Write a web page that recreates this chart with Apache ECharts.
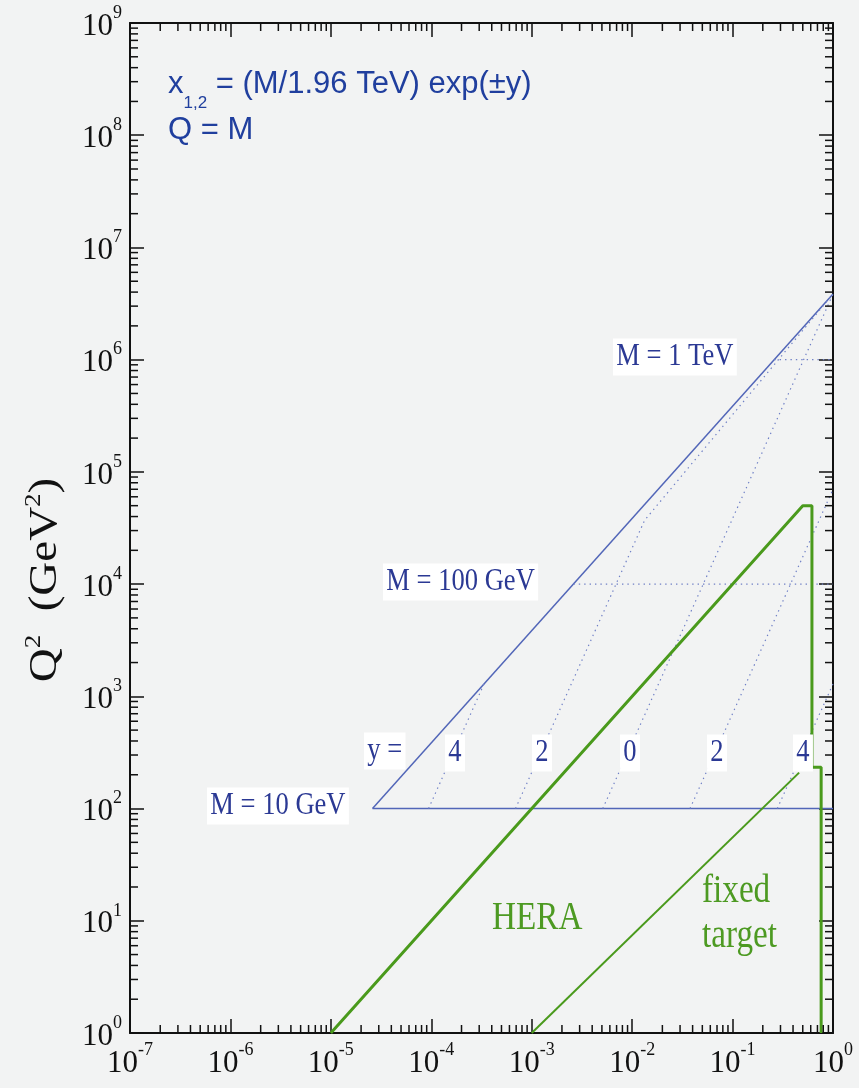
<!DOCTYPE html>
<html>
<head>
<meta charset="utf-8">
<title>Parton kinematics at the Tevatron</title>
<script src="https://cdn.jsdelivr.net/npm/echarts@6.0.0/dist/echarts.min.js"></script>
<style>
  html, body { margin: 0; padding: 0; background: #f2f3f3; }
  #chart { width: 859px; height: 1088px; }
</style>
</head>
<body>
<div id="chart"></div>
<script>
// ---- axis ranges and tick decades --------------------------------------
const xRange = [1e-7, 1];
const yRange = [1, 1e9];
const xDecades = [-7, -6, -5, -4, -3, -2, -1];
const yDecades = [0, 1, 2, 3, 4, 5, 6, 7, 8];
const minorMultipliers = [2, 3, 4, 5, 6, 7, 8, 9];

// ---- Tevatron region (sqrt(s) = 1.96 TeV), blue ------------------------
// upper-left kinematic edge (other parton at x = 1)
const tevatronEdge = [[2.6e-5, 1e2], [1, 3.84e6]];
// fixed-mass lines: M = 10 GeV (solid), 100 GeV and 1 TeV (dotted)
const massLine10 = [[2.6e-5, 1e2], [1, 1e2]];
const massLine100 = [[2.6e-3, 1e4], [1, 1e4]];
const massLine1000 = [[2.6e-1, 1e6], [1, 1e6]];
// constant-rapidity lines, y = 4, 2, 0, 2, 4 from left to right
const rapidity4L = [[9.4e-5, 1e2], [3.35e-4, 1.29e3]];
const rapidity2L = [[6.9e-4, 1e2], [1.33e-2, 3.7e4], [1, 3.84e6]];
const rapidity0 = [[5.1e-3, 1e2], [1, 3.84e6]];
const rapidity2R = [[3.77e-2, 1e2], [1, 7.0e4]];
const rapidity4R = [[2.79e-1, 1e2], [1, 1.29e3]];

// ---- HERA and fixed-target reach, green ---------------------------------
const heraReach = [[1e-5, 1], [0.5, 5.0e4], [0.617, 5.0e4], [0.617, 233], [0.762, 233], [0.762, 1]];
const fixedTargetReach = [[1e-3, 1], [0.46, 209]];

// ---- styles --------------------------------------------------------------
const serif = "'Liberation Serif', 'Times New Roman', serif";
const sans = "'Liberation Sans', Arial, sans-serif";
const ink = '#111111';
const blueLine = '#5266b8';
const blueDot = '#7080c6';
const blueInk = '#2b3994';
const formulaInk = '#203f9e';
const greenLine = '#4a9a1c';
const greenInk = '#4d9a22';

const powerLabel = v => `{b|10}{e|${Math.round(Math.log10(v))}}`;
const powerRich = {
  b: { fontFamily: serif, fontSize: 31, color: ink, lineHeight: 38, verticalAlign: 'bottom' },
  e: { fontFamily: serif, fontSize: 18, color: ink, lineHeight: 20, verticalAlign: 'top' }
};

function logAxis(range, position, withLabels) {
  return {
    type: 'log',
    logBase: 10,
    min: range[0],
    max: range[1],
    position: position,
    axisLine: { show: true, onZero: false, lineStyle: { color: ink, width: 2 } },
    axisTick: { show: true, inside: true, length: 14, lineStyle: { color: ink, width: 1.5 } },
    minorTick: { show: false },
    splitLine: { show: false },
    axisLabel: withLabels
      ? { show: true, margin: 8, formatter: powerLabel, rich: powerRich }
      : { show: false }
  };
}

// minor ticks (2..9 x 10^n) on all four sides of the frame
const xMinorValues = [];
xDecades.forEach(e => minorMultipliers.forEach(m => xMinorValues.push(m * Math.pow(10, e))));
const yMinorValues = [];
yDecades.forEach(e => minorMultipliers.forEach(m => yMinorValues.push(m * Math.pow(10, e))));

function minorTickSeries(values, dir) {
  return {
    type: 'custom',
    coordinateSystem: 'cartesian2d',
    silent: true,
    z: 5,
    data: values.map(v => (dir === 'x' ? [v, yRange[0]] : [xRange[0], v])),
    renderItem(params, api) {
      const len = 8;
      const style = { stroke: ink, lineWidth: 1.5 };
      if (dir === 'x') {
        const v = api.value(0);
        const b = api.coord([v, yRange[0]]);
        const t = api.coord([v, yRange[1]]);
        return { type: 'group', children: [
          { type: 'line', shape: { x1: b[0], y1: b[1], x2: b[0], y2: b[1] - len }, style },
          { type: 'line', shape: { x1: t[0], y1: t[1], x2: t[0], y2: t[1] + len }, style }
        ] };
      }
      const v = api.value(1);
      const l = api.coord([xRange[0], v]);
      const r = api.coord([xRange[1], v]);
      return { type: 'group', children: [
        { type: 'line', shape: { x1: l[0], y1: l[1], x2: l[0] + len, y2: l[1] }, style },
        { type: 'line', shape: { x1: r[0], y1: r[1], x2: r[0] - len, y2: r[1] }, style }
      ] };
    }
  };
}

function path(name, data, color, width, dashed) {
  return {
    name: name,
    type: 'line',
    data: data,
    showSymbol: false,
    symbol: 'none',
    silent: true,
    z: 3,
    lineStyle: { color: color, width: width, type: dashed ? [1.4, 4] : 'solid', cap: 'butt' }
  };
}

// in-plot annotations (serif ones are set slightly condensed)
const labelBox = { backgroundColor: '#ffffff', padding: [3, 4, 2, 4] };
function serifNote(text, x, y, size, color, align, boxed) {
  return {
    type: 'text', x: x, y: y, scaleX: 0.83, z: 10,
    style: Object.assign({
      text: text, font: `${size}px ${serif}`, fill: color,
      align: align || 'left', verticalAlign: 'middle'
    }, boxed ? labelBox : {})
  };
}

const option = {
  backgroundColor: '#f2f3f3',
  animation: false,
  grid: { left: 130, right: 26, top: 23, bottom: 55, containLabel: false },
  xAxis: [logAxis(xRange, 'bottom', true), logAxis(xRange, 'top', false)],
  yAxis: [logAxis(yRange, 'left', true), logAxis(yRange, 'right', false)],
  series: [
    path('M = 10 GeV', massLine10, blueLine, 1.5, false),
    path('Tevatron edge', tevatronEdge, blueLine, 1.5, false),
    path('M = 100 GeV', massLine100, blueDot, 1.2, true),
    path('M = 1 TeV', massLine1000, blueDot, 1.2, true),
    path('y = 4 (x1)', rapidity4L, blueDot, 1.2, true),
    path('y = 2 (x1)', rapidity2L, blueDot, 1.2, true),
    path('y = 0', rapidity0, blueDot, 1.2, true),
    path('y = 2 (x2)', rapidity2R, blueDot, 1.2, true),
    path('y = 4 (x2)', rapidity4R, blueDot, 1.2, true),
    path('HERA', heraReach, greenLine, 3, false),
    path('fixed target', fixedTargetReach, greenLine, 2, false),
    minorTickSeries(xMinorValues, 'x'),
    minorTickSeries(yMinorValues, 'y')
  ],
  graphic: [
    // y-axis title, reading upward
    {
      type: 'text', x: 44, y: 580, rotation: Math.PI / 2, scaleY: 0.83, z: 10,
      style: {
        text: '{n|Q}{s|2}{n|  (GeV}{s|2}{n|)}',
        align: 'center', verticalAlign: 'middle',
        rich: {
          n: { fontFamily: serif, fontSize: 47, fill: ink, lineHeight: 52, verticalAlign: 'bottom' },
          s: { fontFamily: serif, fontSize: 27, fill: ink, lineHeight: 28, verticalAlign: 'top' }
        }
      }
    },
    // kinematics formula
    {
      type: 'text', x: 168, y: 68.8, z: 10,
      style: {
        text: '{m|x}{sub|1,2}{m| = (M/1.96 TeV) exp(±y)}',
        align: 'left', verticalAlign: 'top',
        rich: {
          m: { fontFamily: sans, fontSize: 31, fill: formulaInk, lineHeight: 31, verticalAlign: 'top' },
          sub: { fontFamily: sans, fontSize: 17, fill: formulaInk, lineHeight: 70, verticalAlign: 'middle' }
        }
      }
    },
    {
      type: 'text', x: 168, y: 130.3, z: 10,
      style: { text: 'Q = M', font: `31px ${sans}`, fill: formulaInk, align: 'left', verticalAlign: 'middle' }
    },
    serifNote('M = 1 TeV', 613, 357, 32, blueInk, 'left', true),
    serifNote('M = 100 GeV', 383, 582, 32, blueInk, 'left', true),
    serifNote('M = 10 GeV', 207, 806, 32, blueInk, 'left', true),
    serifNote('y =', 364, 751, 32, blueInk, 'left', true),
    serifNote('4', 455, 753, 32, blueInk, 'center', true),
    serifNote('2', 542, 753, 32, blueInk, 'center', true),
    serifNote('0', 630, 753, 32, blueInk, 'center', true),
    serifNote('2', 717, 753, 32, blueInk, 'center', true),
    serifNote('4', 803, 753, 32, blueInk, 'center', true),
    serifNote('HERA', 492, 918.5, 40, greenInk, 'left', false),
    serifNote('fixed', 702, 891.5, 40, greenInk, 'left', false),
    serifNote('target', 702, 936.5, 40, greenInk, 'left', false)
  ]
};

const chart = echarts.init(document.getElementById('chart'), null, { renderer: 'canvas' });
chart.setOption(option);
</script>
</body>
</html>
